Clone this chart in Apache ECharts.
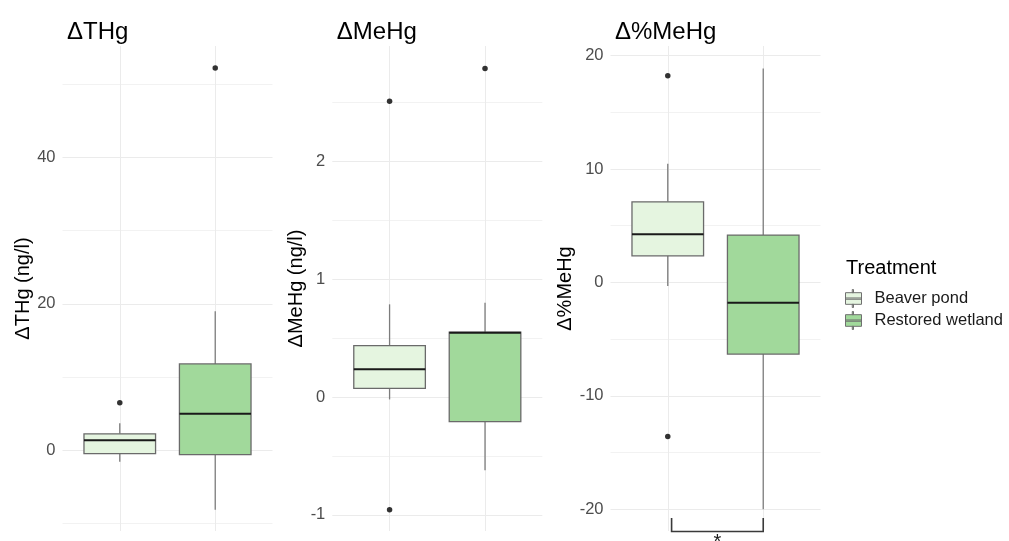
<!DOCTYPE html>
<html>
<head>
<meta charset="utf-8">
<title>Mercury change by treatment</title>
<script src="https://cdn.jsdelivr.net/npm/echarts@6/dist/echarts.min.js"></script>
<style>
  html, body { margin: 0; padding: 0; background: #ffffff; }
  #chart { width: 1009px; height: 541px; }
</style>
</head>
<body>
<div id="chart"></div>
<script>
// Treatment groups, in drawing order (x positions 1 and 2)
const treatments = ['Beaver pond', 'Restored wetland'];
const treatmentFills = ['#e5f5e0', '#a1d99b'];

// Panel titles and y-axis titles
const panelTitles = ['ΔTHg', 'ΔMeHg', 'Δ%MeHg'];
const axisTitles = ['ΔTHg (ng/l)', 'ΔMeHg (ng/l)', 'Δ%MeHg'];

// Box statistics per treatment: [lower whisker, Q1, median, Q3, upper whisker]
const thgBoxes = [
  [-1.55, -0.43, 1.4, 2.27, 3.7],
  [-8.1, -0.57, 5.0, 11.8, 19.0]
];
const mehgBoxes = [
  [-0.02, 0.073, 0.235, 0.437, 0.787],
  [-0.622, -0.208, 0.545, 0.552, 0.80]
];
const pctMehgBoxes = [
  [-0.31, 2.35, 4.24, 7.11, 10.47],
  [-20.0, -6.32, -1.80, 4.18, 18.87]
];

// Outlying points per treatment
const thgOutliers = [[6.5], [52.2]];
const mehgOutliers = [[2.51, -0.956], [2.79]];
const pctMehgOutliers = [[18.23, -13.59], []];

// Visible value range and major tick step of each panel
const yRanges = [[-11.0, 55.2], [-1.137, 2.98], [-21.92, 20.85]];
const yMajorSteps = [20, 1, 10];

// Significance bracket under the %MeHg panel: [x from, x to, y top, y bottom]
const sigBracket = [1.04, 2, -20.78, -21.97];
const sigLabel = '*';
const sigLabelY = -22.95;

const FONT = '"Liberation Sans", Arial, sans-serif';
const panelLefts = [62.5, 332.3, 610.5];
const panelWidth = 210;
const panelTop = 46;
const panelHeight = 485;
const nameGaps = [25, 26, 33];

const boxSets = [thgBoxes, mehgBoxes, pctMehgBoxes];
const outlierSets = [thgOutliers, mehgOutliers, pctMehgOutliers];

function renderBox(params, api) {
  const x = api.value(0);
  const lo = api.coord([x, api.value(1)]);
  const q1 = api.coord([x, api.value(2)]);
  const med = api.coord([x, api.value(3)]);
  const q3 = api.coord([x, api.value(4)]);
  const hi = api.coord([x, api.value(5)]);
  const w = api.size([0.75, 0])[0];
  const fill = api.visual('color');
  const whisker = { stroke: '#7c7c7c', lineWidth: 1.3 };
  return {
    type: 'group',
    children: [
      { type: 'line', shape: { x1: lo[0], y1: lo[1], x2: q1[0], y2: q1[1] }, style: whisker },
      { type: 'line', shape: { x1: q3[0], y1: q3[1], x2: hi[0], y2: hi[1] }, style: whisker },
      {
        type: 'rect',
        shape: { x: q1[0] - w / 2, y: q3[1], width: w, height: q1[1] - q3[1] },
        style: { fill: fill, stroke: '#6a6a6a', lineWidth: 1.3 }
      },
      {
        type: 'line',
        shape: { x1: med[0] - w / 2, y1: med[1], x2: med[0] + w / 2, y2: med[1] },
        style: { stroke: '#1a1a1a', lineWidth: 2 }
      }
    ]
  };
}

function renderBracket(params, api) {
  const a = api.coord([api.value(0), api.value(2)]);
  const b = api.coord([api.value(0), api.value(3)]);
  const c = api.coord([api.value(1), api.value(3)]);
  const d = api.coord([api.value(1), api.value(2)]);
  const t = api.coord([(api.value(0) + api.value(1)) / 2, sigLabelY]);
  return {
    type: 'group',
    children: [
      {
        type: 'polyline',
        shape: { points: [a, b, c, d] },
        style: { stroke: '#3a3a3a', lineWidth: 1.6, fill: null }
      },
      {
        type: 'text',
        style: {
          x: t[0], y: t[1], text: sigLabel, align: 'center', verticalAlign: 'middle',
          fontSize: 20, fontFamily: FONT, fill: '#1a1a1a'
        }
      }
    ]
  };
}

const grids = [], xAxes = [], yAxes = [], series = [], titles = [];

for (let p = 0; p < 3; p++) {
  grids.push({ left: panelLefts[p], top: panelTop, width: panelWidth, height: panelHeight });
  const gridLine = { lineStyle: { color: '#ebebeb', width: 1 } };
  xAxes.push({
    type: 'value', gridIndex: p, min: 0.4, max: 2.6, minInterval: 1, maxInterval: 1,
    axisLine: { show: false }, axisTick: { show: false }, axisLabel: { show: false },
    splitLine: Object.assign({ show: true, showMinLine: false, showMaxLine: false }, gridLine)
  });
  const step = yMajorSteps[p];
  yAxes.push({
    type: 'value', gridIndex: p, min: yRanges[p][0], max: yRanges[p][1],
    minInterval: step, maxInterval: step,
    name: axisTitles[p], nameLocation: 'middle', nameGap: nameGaps[p], nameRotate: 90,
    nameTextStyle: { fontFamily: FONT, fontSize: 20, color: '#000000' },
    axisLine: { show: false }, axisTick: { show: false },
    axisLabel: {
      margin: 7, fontFamily: FONT, fontSize: 16.5, color: '#4d4d4d',
      showMinLabel: false, showMaxLabel: false,
      formatter: function (v) {
        const r = Math.round(v / step) * step;
        return Math.abs(v - r) < 1e-6 ? String(r) : '';
      }
    },
    splitLine: Object.assign({ show: true, showMinLine: false, showMaxLine: false }, gridLine),
    minorTick: { show: false, splitNumber: 2 },
    minorSplitLine: { show: true, lineStyle: { color: '#f2f2f2', width: 1 } }
  });
  titles.push({
    text: panelTitles[p], left: panelLefts[p] - 0.5, top: 15,
    textStyle: { fontFamily: FONT, fontSize: 24, fontWeight: 'normal', color: '#000000' }
  });

  for (let t = 0; t < treatments.length; t++) {
    series.push({
      type: 'custom', name: treatments[t], xAxisIndex: p, yAxisIndex: p,
      itemStyle: { color: treatmentFills[t] },
      encode: { x: 0, y: [1, 2, 3, 4, 5] },
      renderItem: renderBox,
      data: [[t + 1].concat(boxSets[p][t])],
      z: 3
    });
  }
  const pts = [];
  outlierSets[p].forEach(function (vals, t) {
    vals.forEach(function (v) { pts.push([t + 1, v]); });
  });
  series.push({
    type: 'scatter', name: 'outliers', xAxisIndex: p, yAxisIndex: p,
    symbol: 'circle', symbolSize: 5.5, itemStyle: { color: '#000000' },
    data: pts, z: 5, silent: true
  });
}

// Bracket marking the significant difference in %MeHg
series.push({
  type: 'custom', name: 'significance', xAxisIndex: 2, yAxisIndex: 2,
  clip: false, renderItem: renderBracket, encode: { x: [0, 1], y: [2, 3] },
  data: [sigBracket], z: 6, silent: true
});

titles.push({
  text: 'Treatment', left: 841, top: 253,
  textStyle: { fontFamily: FONT, fontSize: 20, fontWeight: 'normal', color: '#000000' }
});

// Key glyph: whiskers, box and median drawn as one path
const boxGlyph = 'path://M6.5,0H7.5V3H6.5Z M1,3H14V14H1Z M1,8H14V9.2H1Z M6.5,14H7.5V17H6.5Z';

const chart = echarts.init(document.getElementById('chart'), null, { renderer: 'canvas' });
chart.setOption({
  backgroundColor: '#ffffff',
  animation: false,
  title: titles,
  grid: grids,
  xAxis: xAxes,
  yAxis: yAxes,
  legend: {
    data: treatments.map(function (n) { return { name: n, icon: boxGlyph }; }),
    orient: 'vertical', left: 840, top: 284,
    itemWidth: 16, itemHeight: 18, itemGap: 3,
    symbolKeepAspect: false,
    itemStyle: { borderColor: '#707070', borderWidth: 1 },
    textStyle: { fontFamily: FONT, fontSize: 16.5, color: '#1a1a1a', padding: [0, 0, 0, 8] },
    selectedMode: false
  },
  series: series
});
</script>
</body>
</html>
